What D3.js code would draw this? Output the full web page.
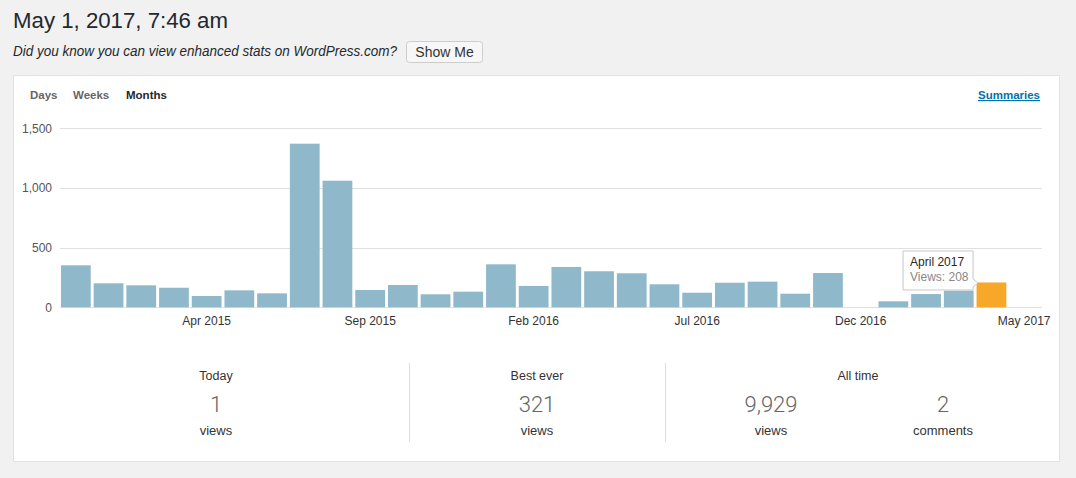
<!DOCTYPE html>
<html><head><meta charset="utf-8">
<script src="https://cdn.jsdelivr.net/npm/d3@7"></script>
<style>
html,body{margin:0;padding:0;background:#f1f1f1;}
svg{display:block;font-family:"Liberation Sans",Arial,sans-serif;}
</style></head>
<body><svg id="c" width="1076" height="478"></svg>
<script>
const months = ["Dec 2014","Jan 2015","Feb 2015","Mar 2015","Apr 2015","May 2015","Jun 2015","Jul 2015","Aug 2015","Sep 2015","Oct 2015","Nov 2015","Dec 2015","Jan 2016","Feb 2016","Mar 2016","Apr 2016","May 2016","Jun 2016","Jul 2016","Aug 2016","Sep 2016","Oct 2016","Nov 2016","Dec 2016","Jan 2017","Feb 2017","Mar 2017","Apr 2017","May 2017"];
const views = [352,201,184,164,95,142,117,1371,1061,145,187,109,131,360,179,338,302,285,193,122,206,215,114,287,0,50,111,139,208,0];
const xTickLabels = ["Apr 2015","Sep 2015","Feb 2016","Jul 2016","Dec 2016","May 2017"];
const yTicks = [0,500,1000,1500];
const highlighted = "Apr 2017";
const tooltipTitle = "April 2017";
const tabs = ["Days","Weeks","Months"];
const summaryLabels = ["Today","Best ever","All time"];
const summaryValues = ["1","321","9,929","2"];
const summaryUnits = ["views","views","views","comments"];

const svg = d3.select("#c");

// Header
svg.append("text").attr("x",13).attr("y",28).attr("font-size",21.5).attr("fill","#23282d")
  .attr("textLength",215).attr("lengthAdjust","spacingAndGlyphs").text("May 1, 2017, 7:46 am");
svg.append("text").attr("x",13).attr("y",56).attr("font-size",14).attr("font-style","italic").attr("fill","#23282d")
  .attr("textLength",384).attr("lengthAdjust","spacingAndGlyphs")
  .text("Did you know you can view enhanced stats on WordPress.com?");
svg.append("rect").attr("x",406.5).attr("y",41.5).attr("width",76).attr("height",21).attr("rx",3)
  .attr("fill","#f7f7f7").attr("stroke","#ccc");
svg.append("text").attr("x",444.5).attr("y",57).attr("text-anchor","middle").attr("font-size",14).attr("fill","#333").text("Show Me");

// Card
svg.append("rect").attr("x",13.5).attr("y",75.5).attr("width",1046).attr("height",386).attr("fill","#fff").attr("stroke","#e2e2e2");

// Tabs
const tabX = [30,73,126];
svg.selectAll(".tab").data(tabs).join("text").attr("class","tab")
  .attr("x",(d,i)=>tabX[i]).attr("y",99).attr("font-size",11.5).attr("font-weight","bold")
  .attr("fill",d=>d==="Months"?"#23282d":"#666").text(d=>d);
svg.append("text").attr("x",1040).attr("y",99).attr("text-anchor","end").attr("font-size",11.5).attr("font-weight","bold")
  .attr("fill","#0073aa").attr("text-decoration","underline").text("Summaries");

// Scales
const x = d3.scaleBand().domain(months).range([59.5,1040.5]).paddingInner(0.09).paddingOuter(0.045);
const y = d3.scaleLinear().domain([0,1500]).range([307.3,128.3]);

// Grid
const g = svg.append("g");
g.selectAll(".grid").data(yTicks).join("line")
  .attr("x1",60).attr("x2",1042).attr("y1",d=>Math.round(y(d))+0.5).attr("y2",d=>Math.round(y(d))+0.5)
  .attr("stroke","#e0e0e0");

// Y axis labels
const yAxis = d3.axisLeft(y).tickValues(yTicks).tickSize(0).tickPadding(0).tickFormat(d3.format(","));
const ya = svg.append("g").attr("transform","translate(52,0)").call(yAxis);
ya.select(".domain").remove();
ya.selectAll("text").attr("font-size",12).attr("fill","#555").attr("font-family","Liberation Sans, Arial, sans-serif");

// Bars
g.selectAll(".bar").data(months).join("rect").attr("class","bar")
  .attr("x",d=>x(d)).attr("width",x.bandwidth())
  .attr("y",(d,i)=>y(views[i])).attr("height",(d,i)=>y(0)-y(views[i]))
  .attr("fill",d=>d===highlighted?"#f7a829":"#8fb8ca");

// X axis labels
const xAxis = d3.axisBottom(x).tickValues(xTickLabels).tickSize(0).tickPadding(0);
const xa = svg.append("g").attr("transform","translate(0,314)").call(xAxis);
xa.select(".domain").remove();
xa.selectAll("text").attr("font-size",12).attr("fill","#333").attr("dy","0.95em").attr("font-family","Liberation Sans, Arial, sans-serif");

// Tooltip
const hi = months.indexOf(highlighted);
const tRight = x(highlighted) - 3.5, tBottom = y(views[hi]) + 7.5;
const tW = 70, tH = 39;
const tt = svg.append("g");
tt.append("path")
  .attr("d",`M${tRight-tW},${tBottom-tH}H${tRight}V${tBottom-11}L${tRight+5},${tBottom-7}L${tRight},${tBottom-3}V${tBottom}H${tRight-tW}Z`)
  .attr("fill","#fff").attr("stroke","#c8c8c8");
tt.append("text").attr("x",tRight-tW+7).attr("y",tBottom-24).attr("font-size",12).attr("fill","#23282d").text(tooltipTitle);
tt.append("text").attr("x",tRight-tW+7).attr("y",tBottom-9).attr("font-size",12).attr("fill","#888").text("Views: "+views[hi]);

// Summaries
[409.5,665.5].forEach(xx=>svg.append("line").attr("x1",xx).attr("x2",xx).attr("y1",363).attr("y2",442).attr("stroke","#ddd"));
const labelX = [216,537,858];
svg.selectAll(".slab").data(summaryLabels).join("text").attr("class","slab")
  .attr("x",(d,i)=>labelX[i]).attr("y",380).attr("text-anchor","middle").attr("font-size",12.5).attr("fill","#333").text(d=>d);
const valX = [216,537,771,943];
svg.selectAll(".sval").data(summaryValues).join("text").attr("class","sval")
  .attr("x",(d,i)=>valX[i]).attr("y",412).attr("text-anchor","middle").attr("font-size",22)
  .attr("font-family","Roboto, sans-serif").attr("font-weight",300).attr("fill","#666").text(d=>d);
svg.selectAll(".sunit").data(summaryUnits).join("text").attr("class","sunit")
  .attr("x",(d,i)=>valX[i]).attr("y",435).attr("text-anchor","middle").attr("font-size",13).attr("fill","#333").text(d=>d);
</script></body></html>
